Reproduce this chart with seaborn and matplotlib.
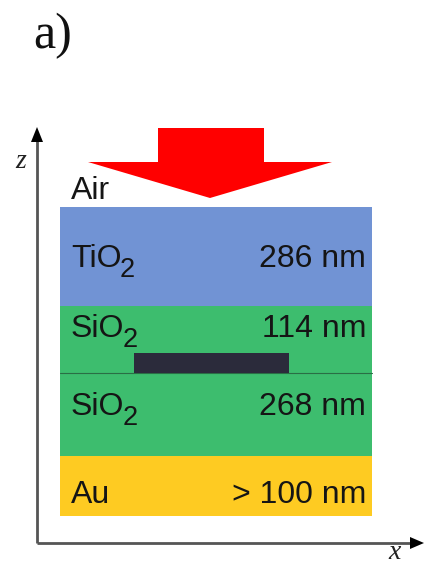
import matplotlib
matplotlib.use("Agg")
import matplotlib.pyplot as plt
import seaborn as sns
from matplotlib.patches import Polygon

sns.set_style("white")
plt.rcParams["font.family"] = ["Liberation Sans", "DejaVu Sans"]

# Layer stack, top to bottom
materials = ["TiO", "SiO", "SiO", "Au"]
subscripts = ["2", "2", "2", ""]
thickness_labels = ["286 nm", "114 nm", "268 nm", "> 100 nm"]
# schematic (not to scale) drawing heights of each layer
draw_heights = [99, 67, 83, 60]
layer_colors = ["#7193d4", "#3dbd6e", "#3dbd6e", "#fecb22"]

fig = plt.figure(figsize=(4.24, 5.65), dpi=100)
ax = fig.add_axes([0, 0, 1, 1])
ax.set_xlim(0, 424)
ax.set_ylim(565, 0)
ax.axis("off")

stack_left, stack_right, stack_top = 60, 372, 207
width = stack_right - stack_left
top = stack_top
tops = []
for h, c in zip(draw_heights, layer_colors):
    ax.bar(stack_left + width / 2, h, bottom=top, width=width, color=c,
           edgecolor="none", zorder=2)
    tops.append(top)
    top += h

# thin interface line between the two SiO2 layers
ax.plot([stack_left, stack_right], [tops[2], tops[2]], color="#2a6e45",
        lw=0.8, zorder=3)
# embedded dark strip sitting on the interface
ax.bar((134 + 289) / 2, 20, bottom=tops[2] - 20, width=289 - 134,
       color="#2b2b3b", edgecolor="none", zorder=4)

# labels
baselines = [267, 337, 415, 503]
fs = 23
txt_col = "#151515"
for name, sub, lab, yb in zip(materials, subscripts, thickness_labels, baselines):
    t = ax.text(71, yb, name, fontsize=fs, ha="left", va="baseline",
                color=txt_col, zorder=5)
    if sub:
        ax.annotate(sub, xy=(1, 0), xycoords=t, xytext=(-1.5, -2),
                    textcoords="offset points", fontsize=fs * 0.85,
                    ha="left", va="baseline", color=txt_col, zorder=5)
    ax.text(366, yb, lab, fontsize=fs, ha="right", va="baseline",
            color=txt_col, zorder=5)
ax.text(71, 199, "Air", fontsize=fs, ha="left", va="baseline",
        color=txt_col, zorder=5)

# incident light arrow
arrow = Polygon([(158, 128), (264, 128), (264, 162), (332, 162),
                 (210, 198), (88, 162), (158, 162)],
                closed=True, facecolor="#ff0000", edgecolor="none", zorder=3)
ax.add_patch(arrow)

# coordinate axes
axis_col = "#555555"
ax.plot([37, 37], [543, 140], color=axis_col, lw=2, zorder=1,
        solid_capstyle="butt")
ax.plot([37, 412], [543, 543], color=axis_col, lw=2, zorder=1,
        solid_capstyle="butt")
ax.add_patch(Polygon([(31, 142), (43, 142), (37, 127)], closed=True,
                     facecolor="black", edgecolor="none"))
ax.add_patch(Polygon([(410, 537), (410, 549), (424, 543)], closed=True,
                     facecolor="black", edgecolor="none"))
ax.text(21, 168, "z", fontsize=20, family="Liberation Serif", style="italic",
        ha="center", va="baseline", color="#222222")
ax.text(395, 559, "x", fontsize=20, family="Liberation Serif", style="italic",
        ha="center", va="baseline", color="#222222")

# panel tag
ax.text(33, 48, "a)", fontsize=36, family="Liberation Serif",
        ha="left", va="baseline", color="#111111")

fig.savefig("out.png", dpi=100)
